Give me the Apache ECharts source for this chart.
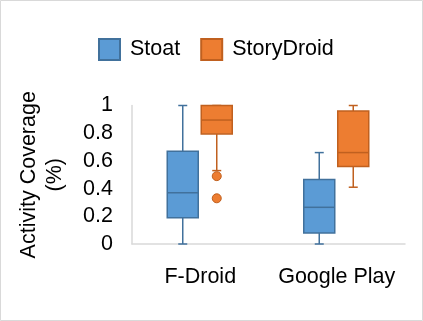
<!DOCTYPE html>
<html>
<head>
<meta charset="utf-8">
<script src="https://cdn.jsdelivr.net/npm/echarts@6/dist/echarts.min.js"></script>
<style>
  html, body { margin: 0; padding: 0; background: #fff; }
  #chart { width: 423px; height: 321px; }
</style>
</head>
<body>
<div id="chart"></div>
<script>
// 分类与数据
const categories = ["F-Droid", "Google Play"];
// [min, Q1, median, Q3, max]
const stoatBoxes = [
  [0, 0.19, 0.37, 0.67, 1.0],
  [0, 0.08, 0.265, 0.465, 0.66]
];
const storyBoxes = [
  [0.53, 0.795, 0.895, 1.0, 1.0],
  [0.41, 0.56, 0.66, 0.96, 1.0]
];
// 离群点 [分类下标, 值]
const storyOutliers = [
  [0, 0.49],
  [0, 0.33]
];
const yTicks = [0, 0.2, 0.4, 0.6, 0.8, 1];

const BLUE = "#5B9BD5", BLUE_LINE = "#41719C";
const ORANGE = "#ED7D31", ORANGE_LINE = "#C0601F";

// 箱线图绘制
function boxRenderer(offset, fill, stroke) {
  return function (params, api) {
    const cat = api.value(0);
    const cx = api.coord([cat, 0])[0] + offset;
    const y = (v) => api.coord([cat, v])[1];
    const lo = y(api.value(1)), q1 = y(api.value(2)), md = y(api.value(3));
    const q3 = y(api.value(4)), hi = y(api.value(5));
    const w = 31, cap = 9;
    const line = { stroke: stroke, lineWidth: 1.5, fill: null };
    return {
      type: "group",
      children: [
        { type: "line", shape: { x1: cx, y1: hi, x2: cx, y2: q3 }, style: line },
        { type: "line", shape: { x1: cx, y1: q1, x2: cx, y2: lo }, style: line },
        { type: "line", shape: { x1: cx - cap / 2, y1: hi, x2: cx + cap / 2, y2: hi }, style: line },
        { type: "line", shape: { x1: cx - cap / 2, y1: lo, x2: cx + cap / 2, y2: lo }, style: line },
        { type: "rect", shape: { x: cx - w / 2, y: q3, width: w, height: q1 - q3 },
          style: { fill: fill, stroke: stroke, lineWidth: 1.5 } },
        { type: "line", shape: { x1: cx - w / 2, y1: md, x2: cx + w / 2, y2: md }, style: line }
      ]
    };
  };
}

function outlierRenderer(offset, fill, stroke) {
  return function (params, api) {
    const p = api.coord([api.value(0), api.value(1)]);
    return {
      type: "circle",
      shape: { cx: p[0] + offset, cy: p[1], r: 4.5 },
      style: { fill: fill, stroke: stroke, lineWidth: 1 }
    };
  };
}

const toRows = (boxes) => boxes.map((b, i) => [i].concat(b));

const chart = echarts.init(document.getElementById("chart"));
const font = "Liberation Sans";
chart.setOption({
  animation: false,
  backgroundColor: "#fff",
  graphic: [{
    type: "rect",
    shape: { x: 0.5, y: 0.5, width: 422, height: 320 },
    style: { fill: null, stroke: "#d9d9d9", lineWidth: 1 },
    silent: true
  }],
  legend: {
    left: 98,
    top: 38,
    padding: 0,
    itemWidth: 21,
    itemHeight: 21,
    itemGap: 20,
    icon: "rect",
    data: ["Stoat", "StoryDroid"],
    textStyle: { fontFamily: font, fontSize: 21.5, color: "#000", padding: [0, 0, 0, 5] }
  },
  grid: { left: 132, right: 18, top: 105.5, bottom: 77 },
  xAxis: {
    type: "category",
    data: categories,
    axisLine: { lineStyle: { color: "#d9d9d9", width: 1.5 } },
    axisTick: { show: false },
    axisLabel: { interval: 0, fontFamily: font, fontSize: 21.5, color: "#000", margin: 22 },
    splitLine: { show: false }
  },
  yAxis: {
    type: "value",
    min: 0,
    max: 1,
    interval: 0.2,
    name: "Activity Coverage\n(%)",
    nameLocation: "middle",
    nameGap: 64,
    nameTextStyle: { fontFamily: font, fontSize: 21.5, color: "#000", lineHeight: 26 },
    axisLine: { show: true, lineStyle: { color: "#d9d9d9", width: 1.5 } },
    axisTick: { show: false },
    splitLine: { show: false },
    axisLabel: {
      fontFamily: font, fontSize: 21.5, color: "#000", margin: 19,
      formatter: (v) => (yTicks.indexOf(Math.round(v * 10) / 10) >= 0 ? String(Math.round(v * 10) / 10) : "")
    }
  },
  series: [
    {
      name: "Stoat",
      type: "custom",
      renderItem: boxRenderer(-17.5, BLUE, BLUE_LINE),
      itemStyle: { color: BLUE, borderColor: BLUE_LINE, borderWidth: 1.5 },
      encode: { x: 0, y: [1, 2, 3, 4, 5] },
      data: toRows(stoatBoxes)
    },
    {
      name: "StoryDroid",
      type: "custom",
      renderItem: boxRenderer(16.5, ORANGE, ORANGE_LINE),
      itemStyle: { color: ORANGE, borderColor: ORANGE_LINE, borderWidth: 1.5 },
      encode: { x: 0, y: [1, 2, 3, 4, 5] },
      data: toRows(storyBoxes)
    },
    {
      name: "StoryDroid",
      type: "custom",
      renderItem: outlierRenderer(16.5, ORANGE, ORANGE_LINE),
      itemStyle: { color: ORANGE, borderColor: ORANGE_LINE },
      encode: { x: 0, y: 1 },
      z: 3,
      data: storyOutliers
    }
  ]
});
</script>
</body>
</html>
